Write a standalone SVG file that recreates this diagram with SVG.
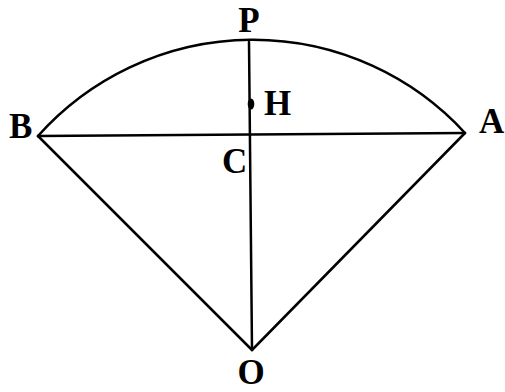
<svg xmlns="http://www.w3.org/2000/svg" width="505" height="392" viewBox="0 0 505 392">
<style>
.ln{fill:none;stroke:#000;stroke-width:2.5;stroke-linecap:round;stroke-linejoin:round}
.lb{font-family:"Liberation Serif",serif;font-weight:bold;font-size:35px;fill:#000}
</style>
<rect width="505" height="392" fill="#fff"/>
<g id="connectors">
<path class="ln" d="M38,136 A288,288 0 0 1 465,133"/>
<line class="ln" x1="38" y1="136" x2="465" y2="133"/>
<line class="ln" x1="38" y1="136" x2="252" y2="350"/>
<line class="ln" x1="465" y1="133" x2="252" y2="350"/>
<line class="ln" x1="249" y1="42" x2="252" y2="350"/>
</g>
<g id="H"><ellipse cx="251" cy="104" rx="3.3" ry="5.5" fill="#000"/><text class="lb" x="264" y="115">H</text></g>
<g id="P"><text class="lb" x="249" y="32" text-anchor="middle">P</text></g>
<g id="B"><text class="lb" x="9" y="138">B</text></g>
<g id="A"><text class="lb" x="479" y="133">A</text></g>
<g id="C"><text class="lb" x="222" y="173">C</text></g>
<g id="O"><text class="lb" x="251" y="384" text-anchor="middle">O</text></g>
</svg>
